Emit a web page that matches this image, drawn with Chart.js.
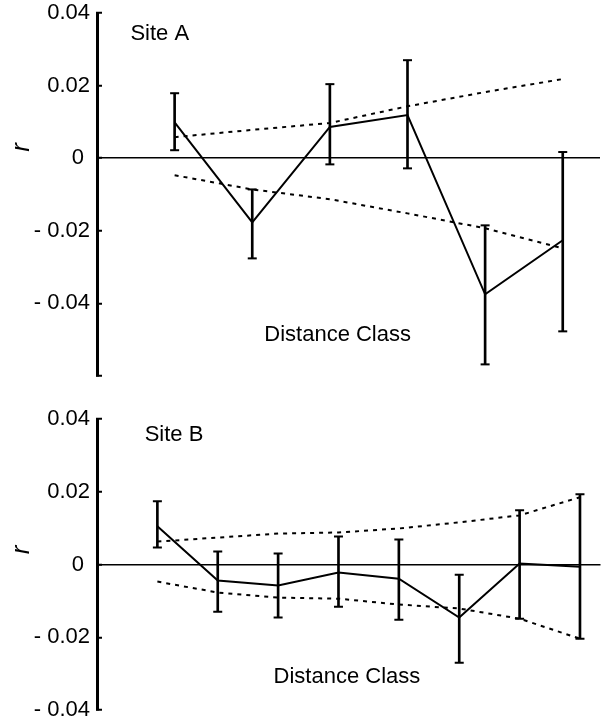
<!DOCTYPE html>
<html>
<head>
<meta charset="utf-8">
<title>Site A / Site B correlogram</title>
<script src="https://cdn.jsdelivr.net/npm/chart.js@4.4.1/dist/chart.umd.min.js"></script>
<style>
    html, body { margin: 0; padding: 0; background: #fff; overflow: hidden; }
    #boxA { position: absolute; left: 0; top: 0; }
    #boxB { position: absolute; left: 0; top: 400px; }
</style>
</head>
<body>
<canvas id="boxA" width="607" height="392"></canvas>
<canvas id="boxB" width="607" height="330"></canvas>
<script>
// Site A: distance classes, r, error bar ends, dashed envelope
const classesA = [1, 2, 3, 4, 5, 6];
const rA = [0.0099, -0.0177, 0.0086, 0.0119, -0.0375, -0.0226];
const highA = [0.0179, -0.0086, 0.0204, 0.0270, -0.0185, 0.0017];
const lowA = [0.0022, -0.0276, -0.0017, -0.0028, -0.0568, -0.0477];
const upperA = [0.0058, 0.0078, 0.0097, 0.0143, 0.0182, 0.0218];
const lowerA = [-0.0047, -0.0086, -0.0113, -0.0152, -0.0193, -0.0248];
const yTicksA = [-0.06, -0.04, -0.02, 0, 0.02, 0.04];
const yLabelsA = ["", "- 0.04", "- 0.02", "0 ", "0.02", "0.04"];

// Site B
const classesB = [1, 2, 3, 4, 5, 6, 7, 8];
const rB = [0.0105, -0.0044, -0.0058, -0.0022, -0.0039, -0.0146, 0.0003, -0.0006];
const highB = [0.0174, 0.0036, 0.0030, 0.0077, 0.0069, -0.0028, 0.0149, 0.0193];
const lowB = [0.0047, -0.0130, -0.0146, -0.0116, -0.0152, -0.0270, -0.0149, -0.0204];
const upperB = [0.0063, 0.0074, 0.0085, 0.0088, 0.0099, 0.0116, 0.0135, 0.0185];
const lowerB = [-0.0047, -0.0077, -0.0091, -0.0094, -0.0110, -0.0121, -0.0149, -0.0204];
const yTicksB = [-0.04, -0.02, 0, 0.02, 0.04];
const yLabelsB = ["- 0.04", "- 0.02", "0 ", "0.02", "0.04"];

const FONT = '"Liberation Sans", Arial, sans-serif';

// texts inside the panel: site name, x label and the rotated r
const panelText = {
    id: "panelText",
    afterDraw(chart, args, opts) {
        const ctx = chart.ctx;
        const x = chart.scales.x;
        const y = chart.scales.y;
        ctx.save();
        ctx.fillStyle = "#000";
        ctx.textBaseline = "middle";
        ctx.font = "22px " + FONT;
        ctx.textAlign = "left";
        ctx.fillText(opts.site, x.getPixelForValue(opts.sitePos[0]), y.getPixelForValue(opts.sitePos[1]));
        ctx.textAlign = "center";
        ctx.fillText("Distance Class", x.getPixelForValue(opts.classPos[0]), y.getPixelForValue(opts.classPos[1]));
        ctx.translate(opts.rLeft, y.getPixelForValue(opts.rValue));
        ctx.rotate(-Math.PI / 2);
        ctx.font = "italic 26px " + FONT;
        ctx.fillText("r", 0, 0);
        ctx.restore();
    }
};

function makeChart(id, d) {
    const pts = (vals) => d.classes.map((c, i) => ({ x: c, y: vals[i] }));
    const dashed = (vals) => ({
        type: "line",
        data: pts(vals),
        borderColor: "#000",
        borderWidth: 2,
        borderDash: [4, 5],
        pointRadius: 0,
        fill: false
    });
    const caps = (vals) => ({
        type: "scatter",
        data: pts(vals),
        pointStyle: "line",
        pointRadius: 4.5,
        borderColor: "#000",
        borderWidth: 2,
        showLine: false
    });

    return new Chart(document.getElementById(id), {
        type: "line",
        data: {
            datasets: [
                {
                    type: "bar",
                    data: d.classes.map((c, i) => ({ x: c, y: [d.low[i], d.high[i]] })),
                    backgroundColor: "#000",
                    borderWidth: 0,
                    barThickness: 2,
                    grouped: false
                },
                caps(d.high),
                caps(d.low),
                {
                    type: "line",
                    data: pts(d.r),
                    borderColor: "#000",
                    borderWidth: 2,
                    pointRadius: 0,
                    tension: 0,
                    fill: false
                },
                dashed(d.upper),
                dashed(d.lower)
            ]
        },
        options: {
            responsive: false,
            animation: false,
            devicePixelRatio: 1,
            layout: { padding: d.padding },
            plugins: {
                legend: { display: false },
                tooltip: { enabled: false },
                panelText: d.text
            },
            scales: {
                x: {
                    type: "linear",
                    display: false,
                    min: 0,
                    max: d.xMax,
                    offset: false
                },
                y: {
                    min: d.yTicks[0],
                    max: d.yTicks[d.yTicks.length - 1],
                    afterBuildTicks: (scale) => { scale.ticks = d.yTicks.map((v) => ({ value: v })); },
                    afterFit: (scale) => {
                        scale.width = 97;
                        // let the layout padding alone decide where the axis ends
                        scale.paddingTop = 0;
                        scale.paddingBottom = 0;
                    },
                    ticks: {
                        autoSkip: false,
                        padding: 12,
                        color: "#000",
                        font: { family: FONT, size: 22 },
                        callback: (v, i) => d.yLabels[i]
                    },
                    grid: {
                        color: (c) => (c.tick && c.tick.value === 0 ? "#000" : "rgba(0,0,0,0)"),
                        lineWidth: 1.5,
                        tickLength: -5,
                        tickColor: "#000",
                        tickWidth: 2
                    },
                    border: { color: "#000", width: 3 }
                }
            }
        },
        plugins: [panelText]
    });
}

makeChart("boxA", {
    classes: classesA, r: rA, high: highA, low: lowA, upper: upperA, lower: lowerA,
    yTicks: yTicksA, yLabels: yLabelsA, xMax: 6.48,
    padding: { top: 13, bottom: 16, left: 0, right: 7 },
    text: { site: "Site A", sitePos: [0.43, 0.0342], classPos: [3.1, -0.0486], rLeft: 22, rValue: 0.003 }
});

makeChart("boxB", {
    classes: classesB, r: rB, high: highB, low: lowB, upper: upperB, lower: lowerB,
    yTicks: yTicksB, yLabels: yLabelsB, xMax: 8.34,
    padding: { top: 19, bottom: 20, left: 0, right: 0 },
    text: { site: "Site B", sitePos: [0.79, 0.0356], classPos: [4.14, -0.0309], rLeft: 22, rValue: 0.004 }
});
</script>
</body>
</html>
